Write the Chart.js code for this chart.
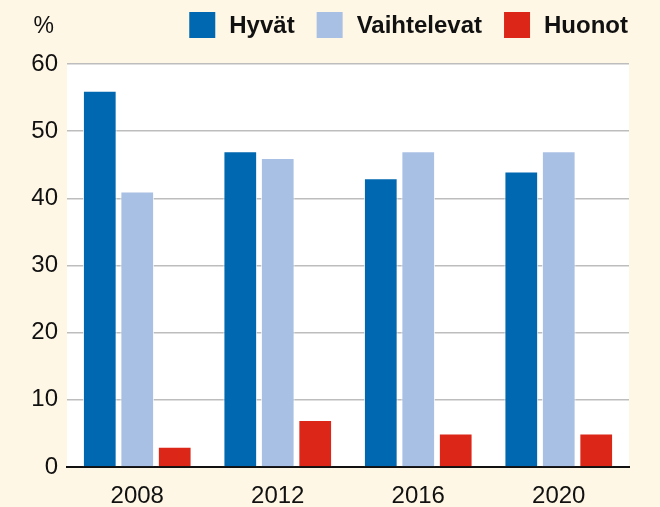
<!DOCTYPE html>
<html lang="fi">
<head>
<meta charset="UTF-8">
<title>Hyvät, vaihtelevat ja huonot</title>
<script src="https://cdn.jsdelivr.net/npm/chart.js"></script>
<style>
    html, body { margin: 0; padding: 0; background: #fef7e5; }
    canvas { display: block; }
</style>
</head>
<body>
<canvas id="chart" width="660" height="507"></canvas>
<script>
    // data
    const years = ['2008', '2012', '2016', '2020'];
    const seriesNames = ['Hyvät', 'Vaihtelevat', 'Huonot'];
    const hyvat = [56, 47, 43, 44];
    const vaihtelevat = [41, 46, 47, 47];
    const huonot = [3, 7, 5, 5];
    const yTicks = [0, 10, 20, 30, 40, 50, 60];
    const unitLabel = '%';

    const colors = ['#0067b1', '#a8c0e4', '#dc2618'];
    const fontFamily = '"Liberation Sans", Arial, sans-serif';

    // white plot area over the cream page
    const plotBg = {
        id: 'plotBg',
        beforeDraw(chart) {
            const a = chart.chartArea;
            const ctx = chart.ctx;
            ctx.save();
            ctx.fillStyle = '#ffffff';
            ctx.fillRect(a.left, a.top, a.right - a.left, a.bottom - a.top);
            ctx.restore();
        }
    };

    // "%" and the legend row at the top right
    const topRow = {
        id: 'topRow',
        afterDraw(chart) {
            const ctx = chart.ctx;
            ctx.save();
            ctx.fillStyle = '#111';
            ctx.font = '23px ' + fontFamily;
            ctx.textAlign = 'right';
            ctx.textBaseline = 'middle';
            ctx.fillText(unitLabel, 54, 27);

            ctx.font = 'bold 24px ' + fontFamily;
            ctx.textAlign = 'left';
            const box = 26, gapText = 14, gapItem = 22;
            let widths = chart.data.datasets.map(d => box + gapText + ctx.measureText(d.label).width);
            let total = widths.reduce((a, b) => a + b, 0) + gapItem * (widths.length - 1);
            let x = 628 - total;
            chart.data.datasets.forEach((d, i) => {
                ctx.fillStyle = d.backgroundColor;
                ctx.fillRect(x, 12, box, box);
                ctx.fillStyle = '#111';
                ctx.fillText(d.label, x + box + gapText, 26);
                x += widths[i] + gapItem;
            });
            ctx.restore();
        }
    };

    const values = [hyvat, vaihtelevat, huonot];
    const datasets = seriesNames.map((name, i) => ({
        label: name,
        data: values[i],
        backgroundColor: colors[i],
        borderColor: 'rgba(255,255,255,0.8)',
        borderWidth: { left: 1, right: 1, top: 1, bottom: 0 },
        borderSkipped: 'bottom',
        barPercentage: 0.9,
        categoryPercentage: 0.8
    }));

    new Chart(document.getElementById('chart'), {
        type: 'bar',
        data: { labels: years, datasets: datasets },
        options: {
            responsive: false,
            maintainAspectRatio: false,
            animation: false,
            layout: { padding: { top: 64, right: 31, left: 0, bottom: 0 } },
            plugins: {
                legend: { display: false },
                tooltip: { enabled: false }
            },
            scales: {
                x: {
                    grid: { display: false, drawTicks: false },
                    border: { display: true, color: '#111', width: 2 },
                    ticks: {
                        color: '#111', padding: 15, autoSkip: false, maxRotation: 0,
                        font: { family: fontFamily, size: 24 }
                    },
                    afterFit(s) { s.height = 40; }
                },
                y: {
                    min: 0,
                    max: 60,
                    afterBuildTicks(s) { s.ticks = yTicks.map(v => ({ value: v })); },
                    grid: {
                        drawTicks: false,
                        color: c => c.tick && c.tick.value === 0 ? 'rgba(0,0,0,0)' : '#bdbdbd',
                        lineWidth: 1.5
                    },
                    border: { display: false },
                    ticks: { color: '#111', padding: 9, autoSkip: false, font: { family: fontFamily, size: 24 } },
                    afterFit(s) { s.width = 67; }
                }
            }
        },
        plugins: [plotBg, topRow]
    });
</script>
</body>
</html>
